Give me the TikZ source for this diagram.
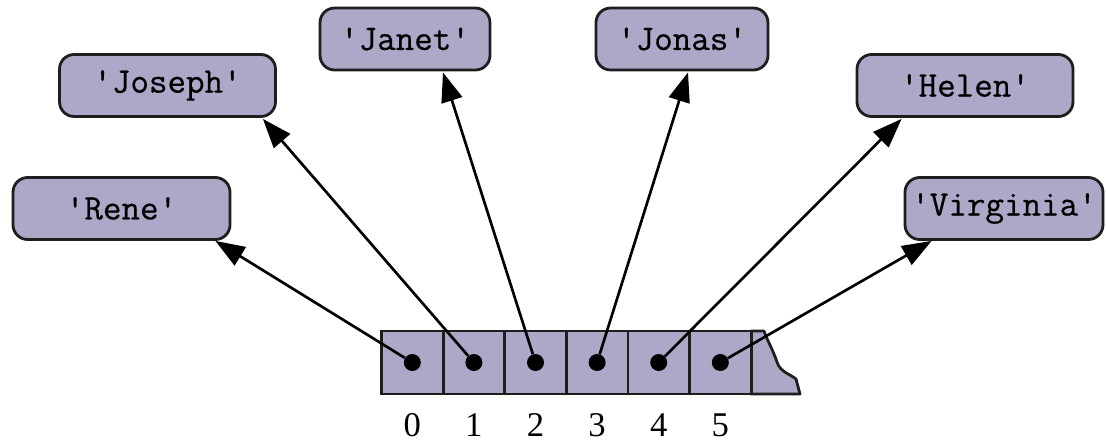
\documentclass[tikz,border=0pt]{standalone}
\usepackage{fontspec}
\newfontfamily\numfont{Liberation Serif}
\newfontfamily\codefont[FakeBold=0.5]{Latin Modern Mono}
\usetikzlibrary{arrows.meta,calc}
\definecolor{boxfill}{RGB}{171,168,200}
\definecolor{edge}{RGB}{30,30,30}
\begin{document}
\begin{tikzpicture}[x=0.75pt,y=-0.75pt,
  namebox/.style={draw=edge, line width=2.1pt, fill=boxfill, rounded corners=11pt,
    minimum height=62*0.75pt, inner sep=0pt, font=\fontsize{27}{30}\selectfont\codefont},
  cell/.style={draw=edge, line width=2.1pt, fill=boxfill, minimum width=61.6*0.75pt,
    minimum height=63*0.75pt, inner sep=0pt, outer sep=0pt},
  tornend/.style={draw=edge, line width=2.1pt, fill=boxfill, line join=round},
  ptr/.style={circle, fill=black, inner sep=0pt, minimum size=17*0.75pt},
  idx/.style={inner sep=0pt, font=\numfont\fontsize{26}{28}\selectfont},
  link/.style={line width=2pt, -{Triangle[length=22pt,width=16pt]}}]
\useasboundingbox (0,0) rectangle (1106,444);
% name boxes
\node[namebox, minimum width=217*0.75pt] (rene) at (121.5,208.5) {\textquotesingle Rene\textquotesingle};
\node[namebox, minimum width=216*0.75pt] (joseph) at (167.5,85.5) {\textquotesingle Joseph\textquotesingle};
\node[namebox, minimum width=170*0.75pt] (janet) at (405,39) {\textquotesingle Janet\textquotesingle};
\node[namebox, minimum width=172*0.75pt] (jonas) at (682,39) {\textquotesingle Jonas\textquotesingle};
\node[namebox, minimum width=216*0.75pt] (helen) at (965,85.5) {\textquotesingle Helen\textquotesingle};
\node[namebox, minimum width=198*0.75pt] (virginia) at (1004,208.5) {\textquotesingle Virginia\textquotesingle};
% torn end of the array
\draw[tornend] (751,331) -- (764,331) .. controls (768,342) and (773,350) .. (777,362)
  .. controls (780,372) and (790,374) .. (796,379) -- (800,394) -- (751,394) -- cycle;
% array cells
\foreach \i/\x in {0/412.3,1/473.9,2/535.5,3/597.1,4/658.7,5/720.3}{
  \node[cell] (c\i) at (\x,362.5) {};
  \node[ptr] (d\i) at (c\i.center) {};
  \node[idx] (i\i) at (\x,425) {\i};
}
% pointers
\draw[link] (d0) -- ($(rene.south east)+(-16,0)$);
\draw[link] (d1) -- ($(joseph.south east)+(-14,1)$);
\draw[link] (d2) -- ($(janet.south)+(38,1)$);
\draw[link] (d3) -- ($(jonas.south)+(6,1)$);
\draw[link] (d4) -- ($(helen.south west)+(46,1)$);
\draw[link] (d5) -- ($(virginia.south west)+(28,0)$);
\end{tikzpicture}
\end{document}
